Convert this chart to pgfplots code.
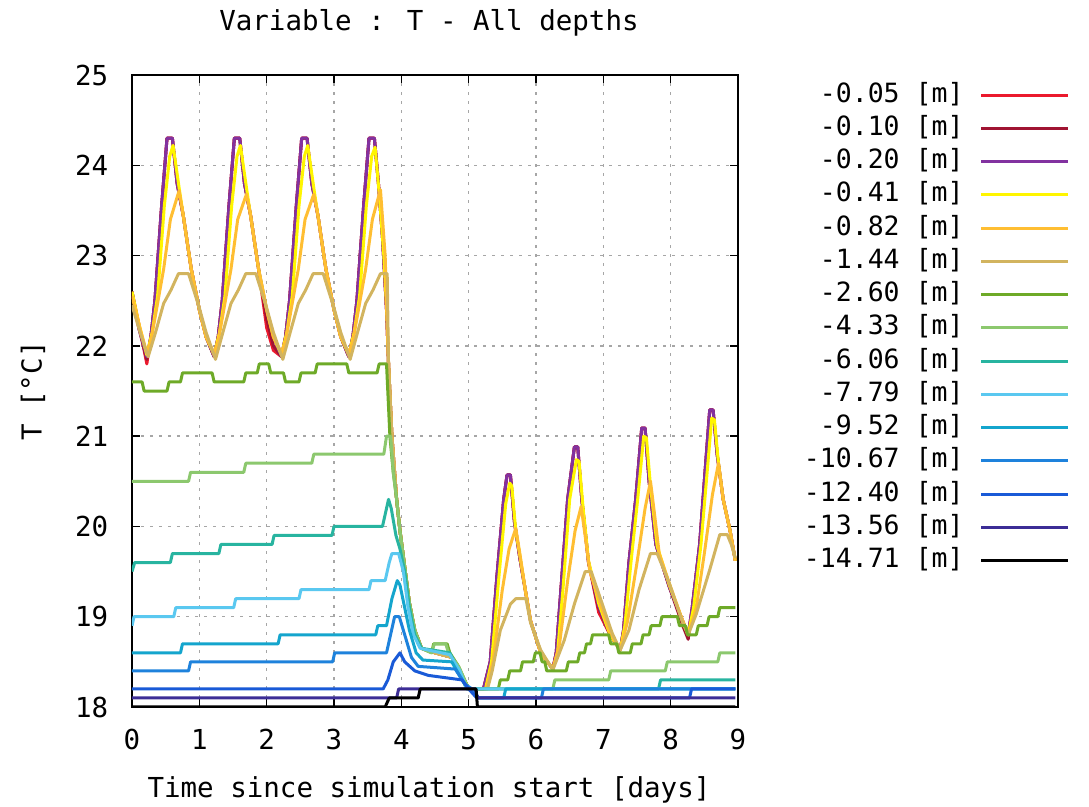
\documentclass[border=0pt]{standalone}
\usepackage{fontspec}
\setmainfont{DejaVu Sans Mono}
\usepackage{pgfplots}
\usepackage{pgfplotstable}
\pgfplotsset{compat=1.18}

\definecolor{c1}{RGB}{235,25,45}
\definecolor{c2}{RGB}{160,20,50}
\definecolor{c3}{RGB}{130,50,160}
\definecolor{c4}{RGB}{255,245,0}
\definecolor{c5}{RGB}{255,190,50}
\definecolor{c6}{RGB}{210,180,95}
\definecolor{c7}{RGB}{110,170,40}
\definecolor{c8}{RGB}{140,200,110}
\definecolor{c9}{RGB}{40,180,160}
\definecolor{c10}{RGB}{90,200,240}
\definecolor{c11}{RGB}{20,165,205}
\definecolor{c12}{RGB}{30,130,220}
\definecolor{c13}{RGB}{25,90,215}
\definecolor{c14}{RGB}{60,45,150}
\definecolor{c15}{RGB}{0,0,0}

% surface layers: p = -0.20, r = -0.05, d = -0.10
\pgfplotstableread{
x p r d
0 22.6 22.6 22.6
0.1 22.2 22.25 22.2
0.22 21.88 21.8 21.85
0.28 22.1 22.1 22.1
0.34 22.5 22.5 22.5
0.44 23.55 23.55 23.55
0.52 24.3 24.3 24.3
0.6 24.3 24.3 24.3
0.67 23.8 23.8 23.8
0.76 23.45 23.45 23.45
0.88 22.85 22.85 22.85
1.0 22.4 22.4 22.4
1.1 22.1 22.1 22.1
1.22 21.88 21.88 21.88
1.28 22.1 22.1 22.1
1.34 22.5 22.5 22.5
1.44 23.55 23.55 23.55
1.52 24.3 24.3 24.3
1.6 24.3 24.3 24.3
1.67 23.8 23.8 23.8
1.76 23.45 23.45 23.45
1.88 22.85 22.85 22.85
2.0 22.4 22.2 22.3
2.1 22.1 21.95 22.0
2.22 21.88 21.88 21.88
2.28 22.1 22.1 22.1
2.34 22.5 22.5 22.5
2.44 23.55 23.55 23.55
2.52 24.3 24.3 24.3
2.6 24.3 24.3 24.3
2.67 23.8 23.8 23.8
2.76 23.45 23.45 23.45
2.88 22.85 22.85 22.85
3.0 22.4 22.4 22.4
3.1 22.1 22.1 22.1
3.22 21.88 21.88 21.88
3.28 22.1 22.1 22.1
3.34 22.5 22.5 22.5
3.44 23.55 23.55 23.55
3.52 24.3 24.3 24.3
3.6 24.3 24.3 24.3
3.66 23.8 23.8 23.8
3.72 23.2 23.2 23.2
3.78 22.4 22.4 22.4
3.81 21.8 21.8 21.8
3.86 21.0 21.0 21.0
3.93 20.3 20.3 20.3
3.98 19.95 19.95 19.95
4.05 19.55 19.55 19.55
4.12 19.15 19.15 19.15
4.2 18.85 18.85 18.85
4.3 18.65 18.65 18.65
4.5 18.6 18.6 18.6
4.75 18.55 18.55 18.55
4.9 18.35 18.35 18.35
5.0 18.2 18.2 18.2
5.22 18.2 18.2 18.2
5.32 18.5 18.5 18.5
5.42 19.45 19.45 19.45
5.52 20.3 20.3 20.3
5.57 20.57 20.57 20.57
5.62 20.57 20.57 20.57
5.68 20.05 20.05 20.05
5.76 19.65 19.65 19.65
5.84 19.3 19.3 19.3
5.92 18.95 18.95 18.95
6.07 18.6 18.6 18.6
6.25 18.42 18.42 18.42
6.3 18.6 18.6 18.6
6.37 19.3 19.3 19.3
6.47 20.3 20.3 20.3
6.57 20.88 20.88 20.88
6.62 20.88 20.88 20.88
6.68 20.3 20.3 20.3
6.78 19.6 19.6 19.6
6.93 19.12 19.05 19.1
7.1 18.8 18.8 18.8
7.25 18.63 18.63 18.63
7.3 18.85 18.85 18.85
7.38 19.6 19.6 19.6
7.48 20.3 20.3 20.3
7.57 21.09 21.09 21.09
7.62 21.09 21.09 21.09
7.68 20.5 20.5 20.5
7.78 19.8 19.8 19.8
7.98 19.33 19.33 19.33
8.18 18.95 18.95 18.9
8.26 18.8 18.8 18.75
8.32 19.1 19.1 19.1
8.43 19.8 19.8 19.8
8.5 20.5 20.5 20.5
8.58 21.29 21.29 21.29
8.63 21.29 21.29 21.29
8.69 20.8 20.8 20.8
8.78 20.3 20.3 20.3
8.88 19.96 19.96 19.96
8.96 19.62 19.62 19.62
}\surf

\begin{document}
\begin{tikzpicture}[font=\fontsize{11}{13}\selectfont]
\useasboundingbox (-52.8pt,-40pt) rectangle (382.8pt,282.8pt);
\begin{axis}[
  at={(0pt,0pt)}, anchor=south west,
  scale only axis, width=242.4pt, height=252.8pt,
  xmin=0, xmax=9, ymin=18, ymax=25,
  xtick={0,...,9}, ytick={18,...,25},
  tick align=inside, major tick length=3.2pt,
  every tick/.style={black, line width=0.6pt},
  axis line style={line width=0.8pt},
  grid=major,
  major grid style={gray!70, line width=0.6pt, dash pattern=on 1.2pt off 2.4pt},
  /pgf/number format/assume math mode=true,
  yticklabel style={xshift=-6pt},
  xticklabel style={yshift=-5.5pt},
  title={Variable : T - All depths},
  every axis title/.style={at={(axis description cs:0.5,1)}, anchor=center, yshift=21pt, xshift=-2.4pt},
  xlabel={Time since simulation start [days]},
  every axis x label/.style={at={(axis description cs:0.5,0)}, anchor=center, yshift=-33.2pt, xshift=-2.4pt},
  ylabel={T [°C]},
  every axis y label/.style={at={(axis description cs:-0.1634,0.5)}, rotate=90, anchor=center},
  legend style={at={(axis description cs:1,1)}, anchor=north east, xshift=132.8pt, yshift=-2.6pt,
    draw=none, fill=none, inner sep=0pt, font=\fontsize{10.6}{12}\selectfont,
    row sep=2.8pt, column sep=6.4pt,
    nodes={inner sep=0pt, text height=8pt, text depth=2.5pt}},
  legend cell align=right,
  legend plot pos=right,
  legend image code/.code={\draw[#1] (0pt,0pt) -- (34.8pt,0pt);},
  every axis plot/.append style={line width=1.2pt, line join=round},
  no markers,
]
\addplot[c1] table[x=x,y=r]{\surf};
\addlegendentry{-0.05 [m]}
\addplot[c2] table[x=x,y=d]{\surf};
\addlegendentry{-0.10 [m]}
\addplot[c3] table[x=x,y=p]{\surf};
\addlegendentry{-0.20 [m]}

\addplot[c4] coordinates {
(0,22.6) (0.1,22.25) (0.22,21.9)
(0.3,22.15) (0.38,22.55) (0.48,23.55) (0.56,24.1) (0.61,24.22) (0.7,23.75) (0.76,23.45) (0.88,22.85) (1.0,22.4) (1.1,22.1) (1.22,21.9)
(1.3,22.15) (1.38,22.55) (1.48,23.55) (1.56,24.1) (1.61,24.22) (1.7,23.75) (1.76,23.45) (1.88,22.85) (2.0,22.4) (2.1,22.1) (2.22,21.9)
(2.3,22.15) (2.38,22.55) (2.48,23.55) (2.56,24.1) (2.61,24.22) (2.7,23.75) (2.76,23.45) (2.88,22.85) (3.0,22.4) (3.1,22.1) (3.22,21.9)
(3.3,22.15) (3.38,22.55) (3.48,23.55) (3.56,24.1) (3.61,24.2) (3.67,23.7) (3.74,23.0) (3.79,22.3) (3.81,21.8)
(3.86,21.0) (3.93,20.3) (3.98,19.95) (4.05,19.55) (4.12,19.15) (4.2,18.85) (4.3,18.65) (4.5,18.6) (4.75,18.55) (4.9,18.35) (5.0,18.2)
(5.25,18.2) (5.34,18.5) (5.45,19.45) (5.55,20.25) (5.61,20.48) (5.64,20.45) (5.7,19.95) (5.76,19.68) (5.84,19.3) (5.92,18.95) (6.07,18.6) (6.25,18.42)
(6.32,18.6) (6.4,19.3) (6.5,20.3) (6.6,20.74) (6.64,20.72) (6.7,20.2) (6.78,19.62) (6.93,19.15) (7.1,18.8) (7.25,18.63)
(7.32,18.9) (7.41,19.6) (7.51,20.3) (7.6,21.0) (7.64,20.98) (7.7,20.45) (7.8,19.78) (7.98,19.35) (8.18,18.95) (8.26,18.8)
(8.34,19.1) (8.45,19.8) (8.53,20.5) (8.61,21.2) (8.65,21.18) (8.71,20.7) (8.78,20.3) (8.88,19.96) (8.96,19.62)
};
\addlegendentry{-0.41 [m]}

\addplot[c5] coordinates {
(0,22.55) (0.1,22.25) (0.22,21.92)
(0.28,22.05) (0.47,22.85) (0.57,23.4) (0.7,23.72) (0.76,23.45) (0.88,22.85) (1.0,22.4) (1.1,22.1) (1.22,21.92)
(1.28,22.05) (1.47,22.85) (1.57,23.4) (1.7,23.68) (1.76,23.45) (1.88,22.85) (2.0,22.4) (2.1,22.1) (2.22,21.92)
(2.28,22.05) (2.47,22.85) (2.57,23.4) (2.7,23.68) (2.76,23.45) (2.88,22.85) (3.0,22.4) (3.1,22.1) (3.22,21.92)
(3.28,22.05) (3.47,22.85) (3.57,23.4) (3.69,23.73) (3.76,23.0) (3.79,22.2) (3.81,21.8)
(3.86,21.0) (3.93,20.3) (3.98,19.95) (4.05,19.55) (4.12,19.15) (4.2,18.85) (4.3,18.65) (4.5,18.6) (4.75,18.55) (4.9,18.35) (5.0,18.2)
(5.26,18.2) (5.36,18.5) (5.5,19.3) (5.6,19.75) (5.7,19.98) (5.76,19.7) (5.84,19.3) (5.92,18.95) (6.07,18.6) (6.25,18.42)
(6.35,18.7) (6.47,19.4) (6.58,19.95) (6.67,20.22) (6.72,19.95) (6.8,19.5) (6.93,19.2) (7.1,18.82) (7.25,18.63)
(7.36,18.95) (7.5,19.6) (7.62,20.2) (7.7,20.5) (7.75,20.2) (7.83,19.7) (7.98,19.37) (8.18,18.95) (8.26,18.8)
(8.38,19.1) (8.5,19.7) (8.62,20.35) (8.71,20.7) (8.78,20.3) (8.88,19.96) (8.96,19.62)
};
\addlegendentry{-0.82 [m]}

\addplot[c6] coordinates {
(0,22.45) (0.12,22.15) (0.24,21.88)
(0.35,22.15) (0.47,22.47) (0.58,22.62) (0.69,22.8) (0.84,22.8) (1.0,22.42) (1.1,22.15) (1.24,21.85)
(1.35,22.15) (1.47,22.47) (1.58,22.62) (1.69,22.8) (1.84,22.8) (2.0,22.42) (2.1,22.15) (2.24,21.85)
(2.35,22.15) (2.47,22.47) (2.58,22.62) (2.69,22.8) (2.84,22.8) (3.0,22.42) (3.1,22.15) (3.24,21.85)
(3.35,22.15) (3.47,22.47) (3.58,22.62) (3.69,22.8) (3.79,22.8) (3.81,21.8)
(3.86,21.0) (3.93,20.3) (3.98,19.95) (4.05,19.55) (4.12,19.15) (4.2,18.85) (4.3,18.65) (4.5,18.6) (4.75,18.55) (4.9,18.35) (5.0,18.2)
(5.28,18.2) (5.35,18.4) (5.47,18.85) (5.62,19.14) (5.7,19.2) (5.85,19.2) (5.92,18.93) (6.07,18.63) (6.25,18.41)
(6.42,18.74) (6.57,19.14) (6.73,19.5) (6.82,19.5) (6.93,19.26) (7.13,18.82) (7.25,18.63)
(7.38,18.85) (7.53,19.3) (7.7,19.7) (7.8,19.7) (7.98,19.37) (8.18,18.93) (8.26,18.8)
(8.38,19.03) (8.58,19.52) (8.73,19.91) (8.84,19.91) (8.9,19.8) (8.96,19.65)
};
\addlegendentry{-1.44 [m]}

\addplot[c7] coordinates {
(0,21.6) (0.15,21.6) (0.18,21.5) (0.52,21.5) (0.55,21.6) (0.72,21.6) (0.75,21.7) (1.19,21.7) (1.22,21.6)
(1.66,21.6) (1.69,21.7) (1.86,21.7) (1.89,21.8) (2.03,21.8) (2.06,21.7) (2.25,21.7) (2.28,21.6) (2.48,21.6)
(2.51,21.7) (2.72,21.7) (2.75,21.8) (3.19,21.8) (3.22,21.7) (3.64,21.7) (3.67,21.8) (3.78,21.8)
(3.83,21.0) (3.88,20.6) (3.93,20.3) (3.98,19.95) (4.05,19.55) (4.12,19.15) (4.2,18.85) (4.3,18.65)
(4.45,18.6) (4.48,18.7) (4.68,18.7) (4.72,18.6) (4.85,18.45) (5.0,18.2)
(5.44,18.2) (5.47,18.3) (5.58,18.3) (5.61,18.4) (5.77,18.4) (5.8,18.5) (5.96,18.5) (5.99,18.6) (6.06,18.6)
(6.09,18.5) (6.13,18.5) (6.16,18.4) (6.45,18.4) (6.48,18.5) (6.62,18.5) (6.65,18.6) (6.72,18.6) (6.75,18.7)
(6.81,18.7) (6.84,18.8) (7.08,18.8) (7.11,18.7) (7.2,18.7) (7.23,18.6) (7.4,18.6) (7.43,18.7) (7.56,18.7)
(7.59,18.8) (7.68,18.8) (7.71,18.9) (7.84,18.9) (7.87,19.0) (8.1,19.0) (8.13,18.9) (8.22,18.9) (8.25,18.8)
(8.38,18.8) (8.41,18.9) (8.54,18.9) (8.57,19.0) (8.7,19.0) (8.73,19.1) (8.96,19.1)
};
\addlegendentry{-2.60 [m]}

\addplot[c8] coordinates {
(0,20.5) (0.84,20.5) (0.87,20.6) (1.66,20.6) (1.69,20.7) (2.67,20.7) (2.7,20.8) (3.74,20.8) (3.78,21.0) (3.84,21.0)
(3.88,20.6) (3.93,20.3) (3.98,19.95) (4.05,19.55) (4.12,19.15) (4.2,18.85) (4.3,18.65) (4.45,18.6) (4.49,18.7)
(4.66,18.7) (4.7,18.6) (4.85,18.45) (5.0,18.2) (6.25,18.2) (6.28,18.3) (7.08,18.3) (7.11,18.4) (7.92,18.4)
(7.95,18.5) (8.7,18.5) (8.73,18.6) (8.96,18.6)
};
\addlegendentry{-4.33 [m]}

\addplot[c9] coordinates {
(0,19.5) (0.04,19.6) (0.57,19.6) (0.6,19.7) (1.29,19.7) (1.32,19.8) (2.08,19.8) (2.11,19.9) (2.97,19.9) (3.0,20.0)
(3.72,20.0) (3.78,20.2) (3.81,20.3) (3.85,20.2) (3.92,19.9) (3.98,19.75) (4.05,19.5) (4.12,19.1) (4.2,18.8)
(4.3,18.65) (4.72,18.6) (4.85,18.4) (4.97,18.2) (7.82,18.2) (7.85,18.3) (8.96,18.3)
};
\addlegendentry{-6.06 [m]}

\addplot[c10] coordinates {
(0,18.9) (0.03,19.0) (0.62,19.0) (0.65,19.1) (1.51,19.1) (1.54,19.2) (2.48,19.2) (2.51,19.3) (3.52,19.3)
(3.55,19.4) (3.76,19.4) (3.82,19.6) (3.86,19.7) (3.96,19.7) (4.03,19.5) (4.1,19.1) (4.18,18.8) (4.28,18.65)
(4.72,18.58) (4.87,18.4) (4.97,18.2) (8.96,18.2)
};
\addlegendentry{-7.79 [m]}

\addplot[c11] coordinates {
(0,18.6) (0.72,18.6) (0.75,18.7) (2.17,18.7) (2.2,18.8) (3.62,18.8) (3.65,18.9) (3.78,18.9) (3.86,19.2)
(3.94,19.4) (3.98,19.35) (4.05,19.1) (4.12,18.85) (4.22,18.6) (4.32,18.52) (4.75,18.5) (4.9,18.3) (5.0,18.2)
(5.15,18.1) (5.52,18.1) (5.55,18.2) (8.96,18.2)
};
\addlegendentry{-9.52 [m]}

\addplot[c12] coordinates {
(0,18.4) (0.84,18.4) (0.87,18.5) (2.98,18.5) (3.01,18.6) (3.78,18.6) (3.84,18.8) (3.9,19.0) (3.97,19.0)
(4.05,18.8) (4.15,18.55) (4.25,18.45) (4.8,18.42) (4.95,18.25) (5.05,18.2) (5.15,18.1) (6.08,18.1)
(6.11,18.2) (8.96,18.2)
};
\addlegendentry{-10.67 [m]}

\addplot[c13] coordinates {
(0,18.2) (3.73,18.2) (3.8,18.3) (3.88,18.5) (3.98,18.6) (4.05,18.5) (4.2,18.4) (4.4,18.35) (4.9,18.3)
(5.0,18.2) (5.12,18.1) (8.28,18.1) (8.31,18.2) (8.96,18.2)
};
\addlegendentry{-12.40 [m]}

\addplot[c14] coordinates {
(0,18.1) (3.93,18.1) (3.96,18.2) (5.1,18.2) (5.13,18.1) (8.96,18.1)
};
\addlegendentry{-13.56 [m]}

\addplot[c15] coordinates {
(0,18.0) (3.76,18.0) (3.82,18.1) (4.25,18.1) (4.28,18.2) (5.11,18.2) (5.13,18.0) (8.96,18.0)
};
\addlegendentry{-14.71 [m]}
\end{axis}
\end{tikzpicture}
\end{document}
